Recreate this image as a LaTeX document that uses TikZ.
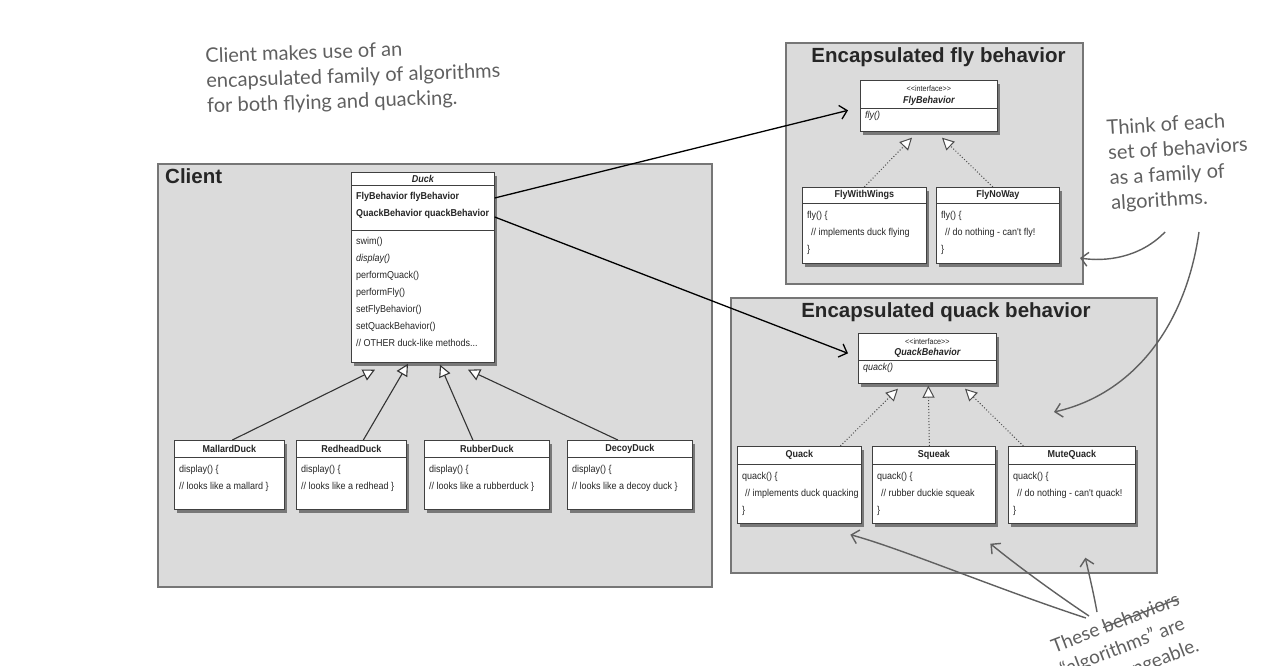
\documentclass[tikz,border=0pt]{standalone}
\usepackage{fontspec}
\usetikzlibrary{arrows.meta,shadows,positioning}
\newfontfamily\umlfont[FakeStretch=0.9]{Liberation Sans}
\newfontfamily\headfont{Liberation Sans}
\newfontfamily\handfont{Lato}
\definecolor{panelgray}{RGB}{219,219,219}
\definecolor{panelline}{RGB}{118,118,118}
\definecolor{pencil}{RGB}{96,96,96}
\newcommand\strikeword[1]{\leavevmode\setbox0=\hbox{#1}%
  \rlap{\raisebox{0.3em}{\rule{\wd0}{1.3pt}}}\box0}

\begin{document}
\begin{tikzpicture}[x=1pt,y=-1pt,
  panel/.style={draw=panelline,fill=panelgray,line width=2pt,
    anchor=north west,inner sep=0pt},
  paneltitle/.style={font=\headfont\bfseries\fontsize{20.5}{24}\selectfont,
    text=black!85,inner sep=0pt},
  classbox/.style={draw=black!75,fill=white,line width=0.7pt,
    anchor=north west,inner sep=0pt,
    drop shadow={shadow xshift=3pt,shadow yshift=-4pt,opacity=0.45,fill=black}},
  classtitle/.style={font=\umlfont\bfseries\fontsize{10}{12}\selectfont,
    text=black!85,inner sep=0pt},
  classname/.style={classtitle,
    font=\umlfont\bfseries\itshape\fontsize{10}{12}\selectfont},
  classbody/.style={font=\umlfont\fontsize{10}{17}\selectfont,text=black!85,
    align=left,anchor=north west,inner sep=0pt},
  stereo/.style={font=\umlfont\fontsize{8}{10}\selectfont,text=black!85,inner sep=0pt},
  sepline/.style={draw=black!75,line width=0.6pt},
  inherit/.style={-{Triangle[fill=white,length=12pt,width=12pt]},
    line width=1.1pt,draw=black!80},
  realize/.style={-{Triangle[fill=white,length=12pt,width=12pt]},
    dotted,line width=1pt,draw=black!70},
  uses/.style={-{Straight Barb[length=7pt,width=14pt]},line width=1.3pt},
  hand/.style={font=\handfont\fontsize{20}{25}\selectfont,text=pencil,
    align=left,inner sep=0pt,anchor=north west},
  pencilarrow/.style={-{Straight Barb[length=7pt,width=14pt]},
    draw=pencil,line width=1.4pt}]

  \clip (0,0) rectangle (1278,666);
  \fill[white] (0,0) rectangle (1278,666);

  % the three grey panels
  \node[panel, minimum width=554, minimum height=423] (clientpanel) at (157,163) {};
  \node[panel, minimum width=297, minimum height=241] (flypanel) at (785,42) {};
  \node[panel, minimum width=426, minimum height=275] (quackpanel) at (730,297) {};
  \node[paneltitle, anchor=west] (clienttitle)
    at ([xshift=8pt,yshift=-13pt]clientpanel.north west) {Client};
  \node[paneltitle] (flytitle)
    at ([xshift=4pt,yshift=-15pt]flypanel.north) {Encapsulated fly behavior};
  \node[paneltitle] (quacktitle)
    at ([xshift=2pt,yshift=-15pt]quackpanel.north) {Encapsulated quack behavior};

  % Duck
  \node[classbox, minimum width=143, minimum height=190] (duck) at (351,172) {};
  \node[classname] (duck-title) at ([yshift=-7pt]duck.north) {Duck};
  \draw[sepline] ([yshift=-13pt]duck.north west) -- ([yshift=-13pt]duck.north east);
  \draw[sepline] ([yshift=-58pt]duck.north west) -- ([yshift=-58pt]duck.north east);
  \node[classbody, font=\umlfont\bfseries\fontsize{10}{17}\selectfont] (duck-attrs)
    at ([xshift=5pt,yshift=-20pt]duck.north west)
    {FlyBehavior flyBehavior\\QuackBehavior quackBehavior};
  \node[classbody] (duck-ops) at ([xshift=5pt,yshift=-65pt]duck.north west)
    {swim()\\\textit{display()}\\performQuack()\\performFly()\\setFlyBehavior()\\
     setQuackBehavior()\\// OTHER duck-like methods...};

  % the two interfaces
  \node[classbox, minimum width=137, minimum height=51] (flyif) at (860,80) {};
  \node[stereo] (flyif-stereo) at ([yshift=-9pt]flyif.north)
    {<\kern0pt<interface>\kern0pt>};
  \node[classname] (flyif-title) at ([yshift=-21pt]flyif.north) {FlyBehavior};
  \draw[sepline] ([yshift=-28pt]flyif.north west) -- ([yshift=-28pt]flyif.north east);
  \node[classbody, font=\umlfont\itshape\fontsize{10}{17}\selectfont] (flyif-ops)
    at ([xshift=5pt,yshift=-31pt]flyif.north west) {fly()};

  \node[classbox, minimum width=138, minimum height=50] (quackif) at (858,333) {};
  \node[stereo] (quackif-stereo) at ([yshift=-9pt]quackif.north)
    {<\kern0pt<interface>\kern0pt>};
  \node[classname] (quackif-title) at ([yshift=-20pt]quackif.north) {QuackBehavior};
  \draw[sepline] ([yshift=-27pt]quackif.north west) -- ([yshift=-27pt]quackif.north east);
  \node[classbody, font=\umlfont\itshape\fontsize{10}{17}\selectfont] (quackif-ops)
    at ([xshift=5pt,yshift=-30pt]quackif.north west) {quack()};

  % concrete classes
  \foreach \nm/\x/\y/\w/\h/\s/\ttl/\txt in {
    mallard/174/440/110/69/17/MallardDuck/{display() \{\\// looks like a mallard \}},
    redhead/296/440/110/69/17/RedheadDuck/{display() \{\\// looks like a redhead \}},
    rubber/424/440/125/69/17/RubberDuck/{display() \{\\// looks like a rubberduck \}},
    decoy/567/440/125/69/17/DecoyDuck/{display() \{\\// looks like a decoy duck \}},
    flywings/802/187/124/76/16/FlyWithWings/{fly() \{\\\hspace*{4pt}// implements duck flying\\\}},
    flynoway/936/187/123/76/16/FlyNoWay/{fly() \{\\\hspace*{4pt}// do nothing - can't fly!\\\}},
    quack/737/446/124/77/18/Quack/{quack() \{\\\hspace*{3pt}// implements duck quacking\\\}},
    squeak/872/446/123/77/18/Squeak/{quack() \{\\\hspace*{4pt}// rubber duckie squeak\\\}},
    mutequack/1008/446/127/77/18/MuteQuack/{quack() \{\\\hspace*{4pt}// do nothing - can't quack!\\\}}}{
    \node[classbox, minimum width=\w, minimum height=\h] (\nm) at (\x,\y) {};
    \node[classtitle] (\nm-title) at ([yshift={-0.5*\s}]\nm.north) {\ttl};
    \draw[sepline] ([yshift=-\s]\nm.north west) -- ([yshift=-\s]\nm.north east);
    \node[classbody] (\nm-body) at ([xshift=5pt,yshift={-\s-8.5}]\nm.north west) {\txt};
  }

  % connectors
  \draw[uses] ([yshift=-26pt]duck.north east) -- ([xshift=-12pt,yshift=-4.5pt]flyif.west);
  \draw[uses] ([yshift=-45pt]duck.north east) -- ([xshift=-10pt,yshift=5pt]quackif.west);

  \draw[inherit] ([xshift=3pt]mallard.north) -- ([xshift=24pt,yshift=-7pt]duck.south west);
  \draw[inherit] ([xshift=12pt]redhead.north) -- ([xshift=57pt,yshift=-1pt]duck.south west);
  \draw[inherit] ([xshift=-14pt]rubber.north) -- ([xshift=89pt,yshift=-2pt]duck.south west);
  \draw[inherit] ([xshift=-12pt]decoy.north) -- ([xshift=117pt,yshift=-7pt]duck.south west);

  \draw[realize] (flywings.north) -- ([xshift=52pt,yshift=-6pt]flyif.south west);
  \draw[realize] ([xshift=-5pt]flynoway.north) -- ([xshift=82pt,yshift=-6pt]flyif.south west);
  \draw[realize] ([xshift=41pt]quack.north) -- ([xshift=40pt,yshift=-5pt]quackif.south west);
  \draw[realize] ([xshift=-4.5pt]squeak.north) -- ([xshift=1pt,yshift=-2pt]quackif.south);
  \draw[realize] ([xshift=-48.5pt]mutequack.north) -- ([xshift=107pt,yshift=-5pt]quackif.south west);

  % hand-written notes
  \node[hand, rotate=2] (clientnote) at (205,48)
    {Client makes use of an\\encapsulated family of algorithms\\for both flying and quacking.};
  \node[hand, rotate=3.5] (thinknote) at (1106,120)
    {Think of each\\set of behaviors\\as a family of\\algorithms.};
  \node[hand, rotate=21, font=\handfont\fontsize{19}{25}\selectfont] (thesenote) at (1049,640)
    {These \strikeword{behaviors}\\“algorithms” are\\interchangeable.};

  \coordinate (thinkA) at (1165,232);
  \coordinate (thinkB) at (1199,232);
  \coordinate (theseA) at (1086,618);
  \coordinate (theseB) at (1089,616);
  \coordinate (theseC) at (1097,612);
  \draw[pencilarrow] (thinkA) .. controls (1140,258) and (1105,262) .. ([xshift=-4pt,yshift=27pt]flypanel.south east);
  \draw[pencilarrow] (thinkB) .. controls (1185,330) and (1130,395) .. ([xshift=-104pt,yshift=-115pt]quackpanel.north east);
  \draw[pencilarrow] (theseA) .. controls (1000,590) and (900,548) .. ([xshift=51pt,yshift=-11pt]quack.south);
  \draw[pencilarrow] (theseB) .. controls (1050,590) and (1010,560) .. ([xshift=56.5pt,yshift=-20pt]squeak.south);
  \draw[pencilarrow] (theseC) .. controls (1093,590) and (1088,570) .. ([xshift=13.5pt,yshift=-34pt]mutequack.south);
\end{tikzpicture}
\end{document}
